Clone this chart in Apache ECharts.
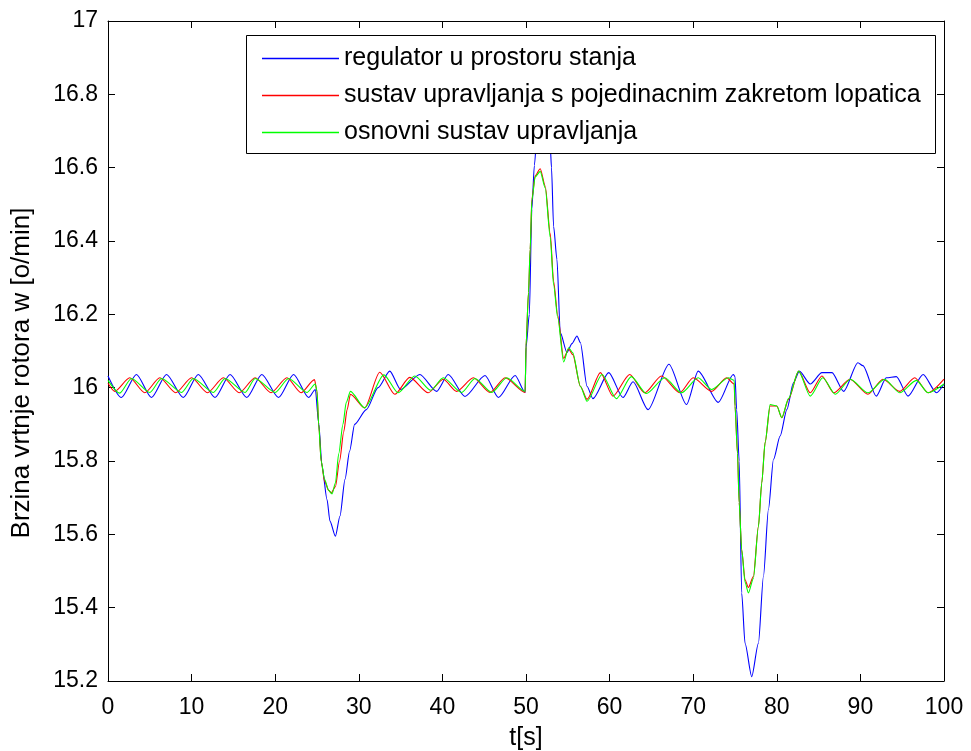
<!DOCTYPE html>
<html>
<head>
<meta charset="utf-8">
<script src="https://cdn.jsdelivr.net/npm/echarts@6/dist/echarts.min.js"></script>
<style>
html,body{margin:0;padding:0;background:#fff;}
#chart{width:971px;height:751px;}
</style>
</head>
<body>
<div id="chart"></div>
<script>
// ---- data (t [s], speed [o/min]) ----
const xTicks = [0,10,20,30,40,50,60,70,80,90,100];
const yTicks = [15.2,15.4,15.6,15.8,16,16.2,16.4,16.6,16.8,17];
const xName = 't[s]';
const yName = 'Brzina vrtnje rotora w [o/min]';
const seriesNames = [
  'regulator u prostoru stanja',
  'sustav upravljanja s pojedinacnim zakretom lopatica',
  'osnovni sustav upravljanja'
];

const blueData = [
  [0,16.032],[1.6,15.973],[3.4,16.036],[5.2,15.973],[7.0,16.036],[9.0,15.973],[10.8,16.036],
  [12.8,15.973],[14.6,16.036],[16.6,15.973],[18.4,16.036],[20.4,15.973],[22.2,16.036],[24.0,15.973],
  [24.8,15.995],[25.2,15.904],[25.6,15.786],[26.2,15.695],[26.55,15.636],[27.2,15.595],[27.75,15.65],
  [28.35,15.75],[28.9,15.827],[29.5,15.9],[30.9,15.94],[32.3,16.0],[33.7,16.045],[35.0,15.995],
  [37.3,16.036],[39.3,15.99],[40.7,16.036],[42.7,15.976],[45.1,16.033],[46.7,15.973],[48.7,16.033],
  [49.9,15.987],[50.0,16.11],[50.4,16.2],[50.7,16.487],[51.0,16.606],[51.4,16.72],[52.2,16.76],
  [52.9,16.66],[53.05,16.6],[53.3,16.44],[53.7,16.35],[54.1,16.15],[54.9,16.096],[55.5,16.12],
  [56.1,16.141],[56.5,16.123],[57.3,16.004],[58.0,15.97],[59.9,16.041],[61.6,15.973],[62.8,16.016],
  [64.6,15.94],[67.1,16.064],[69.2,15.954],[70.6,16.045],[73.0,15.96],[74.8,16.036],[75.0,16.03],
  [75.2,15.94],[75.5,15.80],[75.8,15.44],[76.2,15.303],[77.0,15.212],[77.8,15.303],[78.4,15.485],
  [79.0,15.668],[79.6,15.804],[80.4,15.868],[81.2,15.94],[82.0,16.014],[82.7,16.045],[84.0,16.01],
  [85.4,16.041],[86.6,16.041],[88.0,15.99],[89.7,16.068],[90.3,16.06],[91.9,15.977],[93.1,16.027],
  [94.3,16.03],[95.7,15.977],[97.5,16.036],[99.1,15.986],[100,16.01]
];

const redData = [
  [0,16.012],[0.8,15.99],[2.6,16.027],[4.4,15.986],[6.2,16.027],[8.1,15.986],[10.0,16.027],
  [11.9,15.986],[13.8,16.027],[15.7,15.986],[17.6,16.027],[19.5,15.986],[21.4,16.027],[23.1,15.986],
  [24.7,16.022],[25.0,15.99],[25.2,15.90],[25.5,15.80],[25.9,15.745],[26.4,15.72],[26.7,15.713],
  [27.2,15.73],[27.7,15.80],[28.2,15.88],[28.6,15.94],[29.0,15.982],[30.7,15.945],[32.5,16.042],
  [34.3,15.982],[36.1,16.028],[38.3,15.986],[40.1,16.023],[41.7,15.99],[43.7,16.027],[45.7,15.987],
  [47.5,16.027],[49.9,15.987],[50.0,16.114],[50.3,16.26],[50.5,16.378],[50.7,16.514],[51.1,16.578],
  [51.7,16.597],[52.3,16.55],[52.9,16.42],[53.3,16.29],[53.8,16.196],[54.5,16.08],[55.1,16.105],
  [55.6,16.09],[56.5,16.004],[57.3,15.968],[58.9,16.041],[60.4,15.977],[62.4,16.036],[64.2,15.986],
  [66.2,16.032],[68.4,15.986],[70.0,16.027],[72.2,15.99],[74.0,16.027],[74.9,16.01],[75.0,15.95],
  [75.3,15.82],[75.5,15.686],[75.8,15.558],[76.2,15.476],[76.6,15.455],[77.2,15.485],[77.8,15.622],
  [78.2,15.74],[78.6,15.85],[79.2,15.95],[80.0,15.95],[80.6,15.918],[81.4,15.968],[82.6,16.045],
  [84.0,15.986],[85.4,16.032],[86.8,15.986],[88.75,16.023],[90.9,15.982],[92.7,16.023],[94.7,15.99],
  [96.5,16.027],[98.1,15.986],[100,16.023]
];

const greenData = [
  [0,16.02],[1.4,15.985],[2.8,16.025],[5.0,15.987],[6.4,16.025],[8.8,15.987],[10.2,16.025],
  [12.6,15.987],[14.0,16.025],[16.4,15.987],[17.6,16.025],[20.0,15.987],[21.6,16.025],[23.8,15.987],
  [24.8,16.01],[25.0,15.99],[25.2,15.90],[25.5,15.80],[25.9,15.75],[26.4,15.72],[26.8,15.71],
  [27.2,15.74],[27.6,15.82],[28.1,15.90],[28.5,15.96],[29.0,15.99],[30.7,15.945],[33.0,16.035],
  [34.7,15.986],[36.7,16.032],[38.6,15.993],[40.1,16.027],[42.3,15.987],[43.9,16.025],[45.9,15.987],
  [47.7,16.027],[49.9,15.99],[50.0,16.114],[50.3,16.26],[50.5,16.378],[50.7,16.51],[51.1,16.575],
  [51.7,16.59],[52.3,16.545],[52.9,16.41],[53.3,16.28],[53.8,16.19],[54.5,16.07],[55.1,16.109],
  [55.6,16.095],[56.5,16.004],[57.3,15.963],[59.1,16.036],[60.8,15.97],[62.6,16.03],[64.4,15.984],
  [66.6,16.027],[68.6,15.986],[70.6,16.027],[72.2,15.995],[74.2,16.027],[74.9,16.02],[75.0,15.95],
  [75.3,15.82],[75.5,15.686],[75.8,15.558],[76.2,15.47],[76.6,15.44],[77.2,15.48],[77.8,15.62],
  [78.2,15.74],[78.6,15.85],[79.2,15.954],[80.0,15.95],[80.6,15.918],[81.4,15.97],[82.6,16.045],
  [84.0,15.977],[85.5,16.027],[87.0,15.982],[88.8,16.023],[90.9,15.986],[92.9,16.023],[94.7,15.986],
  [96.7,16.02],[98.1,15.986],[100,16.01]
];

const colors = ['#0000ff','#ff0000','#00ff00'];

const chart = echarts.init(document.getElementById('chart'), null, {renderer:'canvas'});
const font = '"Liberation Sans", Arial, sans-serif';

const axisCommon = {
  axisLine:{show:true, onZero:false, lineStyle:{color:'#000', width:1}},
  axisTick:{show:true, inside:true, length:7, lineStyle:{color:'#000', width:1}},
  splitLine:{show:false}
};

function mkSeries(name, data, color){
  return {
    name, type:'line', data, symbol:'none', smooth:0.25, smoothMonotone:'x',
    lineStyle:{color, width:1.1}, itemStyle:{color}, z:2, animation:false
  };
}

chart.setOption({
  animation:false,
  backgroundColor:'#fff',
  grid:{left:108, right:27, top:21, bottom:70, containLabel:false, outerBoundsMode:'none'},
  xAxis:[
    Object.assign({type:'value', min:xTicks[0], max:xTicks[xTicks.length-1], interval:10, position:'bottom',
      name:xName, nameLocation:'middle', nameGap:45,
      nameTextStyle:{fontFamily:font, fontSize:25, color:'#000'},
      axisLabel:{fontFamily:font, fontSize:23, color:'#000', margin:15}}, axisCommon),
    Object.assign({type:'value', min:xTicks[0], max:xTicks[xTicks.length-1], interval:10, position:'top',
      axisLabel:{show:false}}, axisCommon)
  ],
  yAxis:[
    Object.assign({type:'value', min:yTicks[0], max:yTicks[yTicks.length-1], interval:0.2, position:'left',
      axisLabel:{fontFamily:font, fontSize:23, color:'#000', margin:10}}, axisCommon),
    Object.assign({type:'value', min:yTicks[0], max:yTicks[yTicks.length-1], interval:0.2, position:'right',
      axisLabel:{show:false}}, axisCommon)
  ],
  graphic:[{
    type:'rect', left:246, top:35, z:3,
    shape:{width:689, height:118},
    style:{fill:'#fff', stroke:'#000', lineWidth:1}
  },{
    type:'text', x:22, y:373, rotation:Math.PI/2, z:5,
    style:{text:yName, fontFamily:font, fontSize:26, fill:'#000', align:'center', verticalAlign:'middle'}
  }],
  legend:{
    orient:'vertical', left:262, top:46, padding:0,
    itemWidth:77, itemHeight:1.3, itemGap:12, itemTextGap:8, icon:'rect',
    textStyle:{fontFamily:font, fontSize:25, lineHeight:25, color:'#000'},
    data:seriesNames, z:5, selectedMode:false
  },
  series:[
    mkSeries(seriesNames[0], blueData, colors[0]),
    mkSeries(seriesNames[1], redData, colors[1]),
    mkSeries(seriesNames[2], greenData, colors[2])
  ]
});
</script>
</body>
</html>
